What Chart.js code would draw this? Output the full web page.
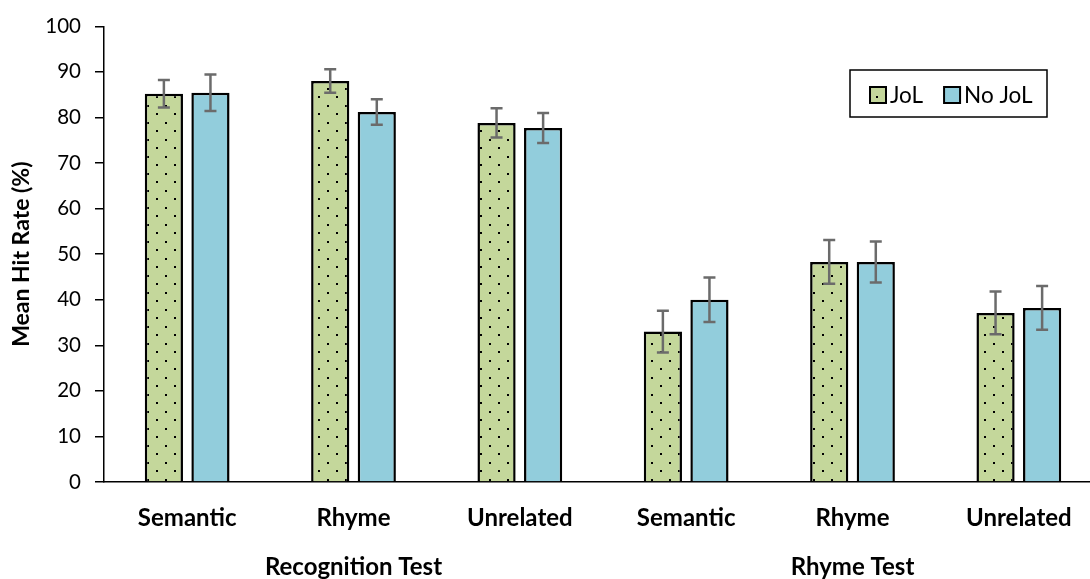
<!DOCTYPE html>
<html>
<head>
<meta charset="utf-8">
<script src="https://cdn.jsdelivr.net/npm/chart.js@4.4.1/dist/chart.umd.min.js"></script>
<style>
  html, body { margin: 0; padding: 0; background: #fff; overflow: hidden; }
  #wrap { width: 1102px; height: 579px; }
</style>
</head>
<body>
<div id="wrap"><canvas id="chart" width="1102" height="579"></canvas></div>
<script>
// ---- data ----
const conditions  = ['Semantic', 'Rhyme', 'Unrelated', 'Semantic', 'Rhyme', 'Unrelated'];
const testGroups  = ['Recognition Test', 'Rhyme Test'];
const jolValues   = [85.2, 88.0, 78.8, 33.0, 48.3, 37.1];
const jolErrors   = [3.0, 2.6, 3.2, 4.6, 4.8, 4.7];
const noJolValues = [85.4, 81.2, 77.7, 40.0, 48.3, 38.2];
const noJolErrors = [4.0, 2.8, 3.3, 4.9, 4.5, 4.8];
const seriesNames = ['JoL', 'No JoL'];

const FONT = 'Lato, "Open Sans", sans-serif';
const GREEN = '#c4d79b';
const BLUE = '#92cddc';

// dotted fill for the JoL bars
function dotPattern() {
  const c = document.createElement('canvas');
  c.width = 18; c.height = 17;
  const g = c.getContext('2d');
  g.fillStyle = GREEN;
  g.fillRect(0, 0, 18, 17);
  g.fillStyle = '#000';
  g.fillRect(3, 3, 2, 2);
  g.fillRect(12, 11, 2, 2);
  return g.createPattern(c, 'repeat');
}
const jolFill = dotPattern();

// error bars drawn through the y scale
const errorBars = {
  id: 'errorBars',
  afterDatasetsDraw(chart) {
    const ctx = chart.ctx, y = chart.scales.y;
    const errs = [jolErrors, noJolErrors];
    ctx.save();
    ctx.strokeStyle = '#6b6b6b';
    ctx.lineWidth = 2.5;
    chart.data.datasets.forEach((ds, di) => {
      chart.getDatasetMeta(di).data.forEach((bar, i) => {
        const v = ds.data[i], e = errs[di][i];
        const top = y.getPixelForValue(v + e), bot = y.getPixelForValue(v - e);
        ctx.beginPath();
        ctx.moveTo(bar.x, top); ctx.lineTo(bar.x, bot);
        ctx.moveTo(bar.x - 6, top); ctx.lineTo(bar.x + 6, top);
        ctx.moveTo(bar.x - 6, bot); ctx.lineTo(bar.x + 6, bot);
        ctx.stroke();
      });
    });
    ctx.restore();
  }
};

// boxed legend in the top-right corner of the plot
const boxLegend = {
  id: 'boxLegend',
  afterDraw(chart) {
    const ctx = chart.ctx;
    ctx.save();
    ctx.strokeStyle = '#000';
    ctx.lineWidth = 1.5;
    ctx.strokeRect(850, 70, 197, 47);
    ctx.font = '22.5px ' + FONT;
    ctx.textBaseline = 'middle';
    let x = 870;
    chart.data.datasets.forEach((ds, i) => {
      ctx.fillStyle = ds.backgroundColor;
      ctx.fillRect(x, 87, 16, 16);
      ctx.lineWidth = 2;
      ctx.strokeRect(x, 87, 16, 16);
      ctx.fillStyle = '#000';
      ctx.fillText(ds.label, x + 20, 96);
      x += 20 + ctx.measureText(ds.label).width + 21;
    });
    ctx.restore();
  }
};

new Chart(document.getElementById('chart'), {
  type: 'bar',
  data: {
    labels: conditions,
    datasets: [
      { label: seriesNames[0], data: jolValues, backgroundColor: jolFill,
        borderColor: '#000', borderWidth: 2.5 },
      { label: seriesNames[1], data: noJolValues, backgroundColor: BLUE,
        borderColor: '#000', borderWidth: 2.5 }
    ]
  },
  options: {
    responsive: false,
    animation: false,
    categoryPercentage: 0.56,
    barPercentage: 0.82,
    layout: { padding: { top: 24, left: 0, right: 0, bottom: 0 } },
    plugins: { legend: { display: false }, tooltip: { enabled: false } },
    scales: {
      x: {
        weight: 0,
        grid: { display: false },
        border: { color: '#000', width: 1.5 },
        ticks: { color: '#000', padding: 14, font: { family: FONT, size: 24, weight: 'bold' } },
        afterFit(s) { s.height = 55; }
      },
      x2: {
        type: 'category',
        position: 'bottom',
        weight: 1,
        labels: testGroups,
        offset: true,
        grid: { display: false, drawTicks: false },
        border: { display: false },
        ticks: { color: '#000', padding: 16, font: { family: FONT, size: 24, weight: 'bold' } },
        afterFit(s) { s.height = 42; }
      },
      y: {
        min: 0, max: 100,
        ticks: { stepSize: 10, color: '#000', padding: 14, font: { family: FONT, size: 20.5 } },
        grid: { drawOnChartArea: false, tickLength: 9, color: '#000', lineWidth: 1.5 },
        border: { color: '#000', width: 1.5 },
        title: { display: true, text: 'Mean Hit Rate (%)', color: '#000',
                 font: { family: FONT, size: 23, weight: 'bold' }, padding: { top: 8, bottom: 0 } },
        afterFit(s) { s.width = 104; }
      }
    }
  },
  plugins: [errorBars, boxLegend]
});
</script>
</body>
</html>
